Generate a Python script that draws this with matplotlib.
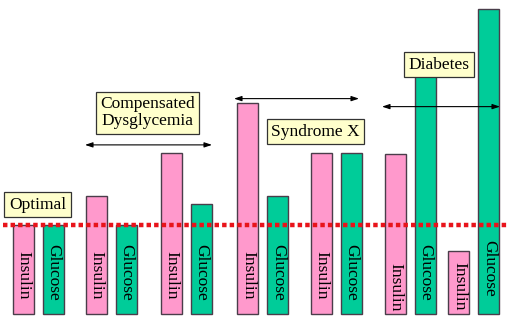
"""Insulin / glucose progression from optimal to diabetes."""

import matplotlib
matplotlib.use("Agg")
import matplotlib.pyplot as plt

# relative levels, optimal = 1.0
stages = ["Optimal", "Compensated\nDysglycemia", "Syndrome X", "Diabetes"]
insulin = [1.00, 1.33, 1.81, 2.37, 1.81, 1.80, 0.71]
glucose = [1.00, 1.00, 1.24, 1.33, 1.81, 2.69, 3.43]
bar_labels = ["Insulin", "Glucose"]
optimal_level = 1.0

PINK = "#FF99CC"
GREEN = "#00CC99"
EDGE = "#4a3d4a"
BOX = "#FFFFCC"
FONT = "Liberation Serif"

# layout (x in figure pixels, y in relative level)
pair_x = [38.75, 111.25, 186.5, 263, 336.25, 410.5, 474]
half_gap = 15
bar_w = 21
ins_label_y = [0.43, 0.43, 0.43, 0.43, 0.43, 0.30, 0.31]
glu_label_y = [0.47, 0.47, 0.47, 0.47, 0.47, 0.47, 0.51]

fig = plt.figure(figsize=(5.09, 3.30), dpi=100)
ax = fig.add_axes([0, 0, 1, 1])
ax.set_xlim(0, 509)
ax.set_ylim(-0.18, 3.528)
ax.axis("off")

ins_x = [x - half_gap for x in pair_x]
glu_x = [x + half_gap for x in pair_x]
ax.bar(ins_x, insulin, width=bar_w, color=PINK, edgecolor=EDGE, linewidth=1.0, zorder=2)
ax.bar(glu_x, glucose, width=bar_w, color=GREEN, edgecolor=EDGE, linewidth=1.0, zorder=2)

for i in range(len(pair_x)):
    ax.text(ins_x[i], ins_label_y[i], bar_labels[0], rotation=270, ha="center", va="center",
            fontsize=12.5, family=FONT, zorder=3)
    ax.text(glu_x[i], glu_label_y[i], bar_labels[1], rotation=270, ha="center", va="center",
            fontsize=12.5, family=FONT, zorder=3)

# optimal reference line
ax.axhline(optimal_level, xmin=3 / 509, xmax=1, color="#E8141B", linewidth=3.2,
           linestyle=(0, (1.0, 0.7)), zorder=4)

# stage ranges
arrows = [(85, 212, 1.90), (234, 359, 2.42), (382, 500, 2.33)]
for x0, x1, y in arrows:
    ax.annotate("", xy=(x0, y), xytext=(x1, y),
                arrowprops=dict(arrowstyle="<|-|>,head_length=0.45,head_width=0.15",
                                color="black", lw=0.8, shrinkA=0, shrinkB=0),
                zorder=5)

box_pos = [(37.5, 1.23), (147.5, 2.26), (315.5, 2.045), (439, 2.80)]
for label, (x, y) in zip(stages, box_pos):
    ax.text(x, y, label, ha="center", va="center", fontsize=12.5, family=FONT,
            linespacing=1.1, zorder=6,
            bbox=dict(boxstyle="square,pad=0.26", facecolor=BOX, edgecolor="#333333",
                      linewidth=0.9))

fig.savefig("out.png", dpi=100)
